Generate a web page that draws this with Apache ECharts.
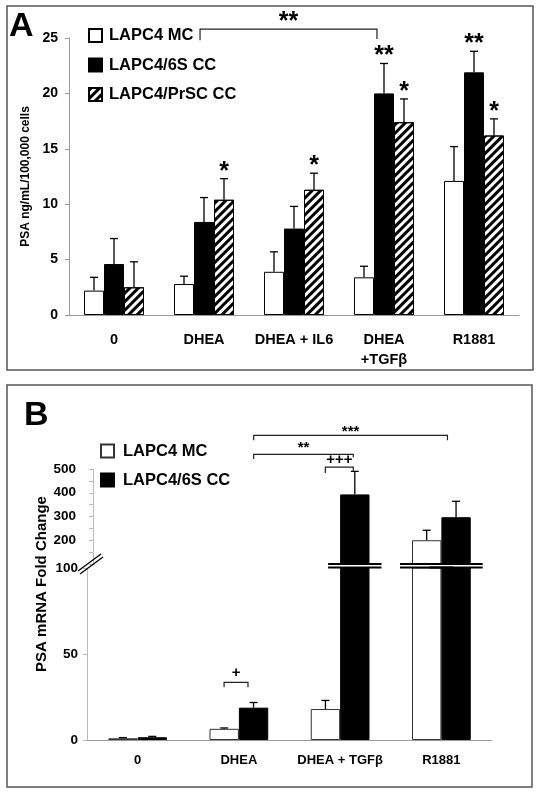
<!DOCTYPE html>
<html><head><meta charset="utf-8">
<script src="https://cdn.jsdelivr.net/npm/echarts@6/dist/echarts.min.js"></script>
<style>
html,body{margin:0;padding:0;background:#fff;width:542px;height:794px;overflow:hidden}
#a{position:absolute;left:0;top:0;width:542px;height:380px}
#b{position:absolute;left:0;top:380px;width:542px;height:414px}
</style></head>
<body><div id="a"></div><div id="b"></div>
<script>
const FONT = '"Liberation Sans", Arial, Helvetica, sans-serif';

// ---------- Panel A data ----------
const catsA = ['0', 'DHEA', 'DHEA + IL6', 'DHEA\n+TGFβ', 'R1881'];
const namesA = ['LAPC4 MC', 'LAPC4/6S CC', 'LAPC4/PrSC CC'];
const mcA = [2.2, 2.8, 3.9, 3.4, 12.1];
const mcSdA = [1.2, 0.7, 1.8, 1.0, 3.1];
const s6A = [4.6, 8.4, 7.8, 20.0, 21.9];
const s6SdA = [2.3, 2.2, 2.0, 2.7, 1.9];
const prA = [2.5, 10.4, 11.3, 17.4, 16.2];
const prSdA = [2.3, 1.9, 1.5, 2.1, 1.5];
const yTicksA = [0, 5, 10, 15, 20, 25];
// significance marks: category, series index, text
const starsA = [[1, 2, '*'], [2, 2, '*'], [3, 1, '**'], [3, 2, '*'], [4, 1, '**'], [4, 2, '*']];
// bracket: fromCat, fromFrac, toCat, toFrac, lineY, tipLeftY, tipRightY, labelY, label
const bracketsA = [[1, -0.044, 3, -0.078, 25.8, 24.8, 24.9, 26.9, '**']];

// ---------- Panel B data ----------
const catsB = ['0', 'DHEA', 'DHEA + TGFβ', 'R1881'];
const namesB = ['LAPC4 MC', 'LAPC4/6S CC'];
const mcB = [1.0, 6.5, 18, 200];
const mcSdB = [0.4, 0.5, 5, 42];
const s6B = [1.6, 18.8, 393, 297];
const s6SdB = [0.5, 3.0, 97, 67];
const lowerTicksB = [0, 50, 100];
const upperTicksB = [200, 300, 400, 500];
// brackets: grid(0 upper,1 lower), fromCat, fromFrac, toCat, toFrac, lineY, tipL, tipR, labelY, label
const bracketsB = [
  [0, 1, 0.146, 3, 0.06, 642, 621, 621, 671, '***'],
  [0, 1, 0.146, 2, 0.13, 562, 542, 550, 604, '**'],
  [0, 2, -0.146, 2, 0.13, 508, 483, 492, 538, '+++'],
  [1, 1, -0.146, 1, 0.09, 33.5, 30.6, 30.6, 39.3, '+']
];

const hatch = {symbol: 'rect', symbolSize: 1, dashArrayX: [1, 0], dashArrayY: [2.5, 2.5], rotation: -Math.PI / 4, color: '#000'};

function barPos(api, ci, k, n, gap) {
  const c = api.coord([ci, 0]);
  const band = api.size([1, 0])[0];
  const bw = band * (1 - gap) / n;
  return {x: c[0] + (k - (n - 1) / 2) * bw, bw: bw};
}
// asterisks sit high in the em box: push them down so the glyph is centred
function glyphShift(text, fs) { return text.indexOf('*') >= 0 ? fs * 0.22 : 0; }

function errSeries(vals, sds, k, n, gap, opts) {
  opts = opts || {};
  return Object.assign({
    type: 'custom', name: 'err' + k, z: 5, clip: false, silent: true,
    data: vals.map((v, i) => [i, v, sds[i]]),
    renderItem: function (params, api) {
      const ci = api.value(0), v = api.value(1), sd = api.value(2);
      if (opts.filter && !opts.filter(v)) return null;
      const p = barPos(api, ci, k, n, gap);
      const y0 = api.coord([ci, v])[1], y1 = api.coord([ci, v + sd])[1];
      const st = {stroke: '#000', lineWidth: 1.3};
      return {type: 'group', children: [
        {type: 'line', shape: {x1: p.x, y1: y0, x2: p.x, y2: y1}, style: st},
        {type: 'line', shape: {x1: p.x - 4, y1: y1, x2: p.x + 4, y2: y1}, style: st}
      ]};
    }
  }, opts.extra || {});
}
function bracketSeries(list, fontSize, extra) {
  return Object.assign({
    type: 'custom', name: 'brackets', z: 6, clip: false, silent: true,
    data: list.map(b => b.slice(0, 8)),
    renderItem: function (params, api) {
      const b = list[params.dataIndex];
      const band = api.size([1, 0])[0];
      const xl = api.coord([b[0], 0])[0] + b[1] * band;
      const xr = api.coord([b[2], 0])[0] + b[3] * band;
      const y = api.coord([b[0], b[4]])[1];
      const yl = api.coord([b[0], b[5]])[1];
      const yr = api.coord([b[0], b[6]])[1];
      const ty = api.coord([b[0], b[7]])[1] + glyphShift(b[8], fontSize);
      return {type: 'group', children: [
        {type: 'polyline', shape: {points: [[xl, yl], [xl, y], [xr, y], [xr, yr]]}, style: {stroke: '#222', lineWidth: 1.2, fill: null}},
        {type: 'text', style: {x: (xl + xr) / 2, y: ty, text: b[8], align: 'center', verticalAlign: 'middle', font: 'bold ' + fontSize + 'px ' + FONT, fill: '#000'}}
      ]};
    }
  }, extra || {});
}

const axisGray = '#9a9a9a';

// ---------- Chart A ----------
const gapA = 1 / 3;
const valsA = [mcA, s6A, prA], sdsA = [mcSdA, s6SdA, prSdA];
const chartA = echarts.init(document.getElementById('a'), null, {renderer: 'canvas'});
chartA.setOption({
  animation: false,
  graphic: [
    {type: 'rect', shape: {x: 7, y: 6, width: 526, height: 364}, style: {fill: 'none', stroke: '#555', lineWidth: 1.5}, silent: true},
    {type: 'text', style: {x: 9, y: 27, text: 'A', font: 'bold 34px ' + FONT, fill: '#000', verticalAlign: 'middle'}, silent: true}
  ],
  legend: {
    orient: 'vertical', left: 88, top: 27, padding: 0, itemWidth: 13, itemHeight: 13, itemGap: 12.5, icon: 'rect',
    textStyle: {fontFamily: FONT, fontWeight: 'bold', fontSize: 16.5, color: '#000', padding: [0, 0, 0, 2]},
    data: namesA, selectedMode: false
  },
  grid: {left: 69, right: 23, top: 38, height: 277},
  xAxis: {
    type: 'category', data: catsA,
    axisLine: {lineStyle: {color: axisGray}}, axisTick: {length: 4, lineStyle: {color: axisGray}},
    axisLabel: {interval: 0, color: '#000', fontFamily: FONT, fontWeight: 'bold', fontSize: 14.5, margin: 15, lineHeight: 20}
  },
  yAxis: {
    type: 'value', min: yTicksA[0], max: yTicksA[yTicksA.length - 1], interval: 5,
    splitLine: {show: false},
    axisLine: {show: true, lineStyle: {color: axisGray}}, axisTick: {show: true, length: 4, lineStyle: {color: axisGray}},
    axisLabel: {color: '#000', fontFamily: FONT, fontWeight: 'bold', fontSize: 14, margin: 11},
    name: 'PSA ng/mL/100,000 cells', nameLocation: 'middle', nameGap: 34, nameRotate: 90,
    nameTextStyle: {color: '#000', fontFamily: FONT, fontWeight: 'bold', fontSize: 12}
  },
  series: [
    {type: 'bar', name: namesA[0], data: mcA, barGap: '0%', barCategoryGap: '33.3%', itemStyle: {color: '#fff', borderColor: '#000', borderWidth: 1}},
    {type: 'bar', name: namesA[1], data: s6A, itemStyle: {color: '#000', borderColor: '#000', borderWidth: 1}},
    {type: 'bar', name: namesA[2], data: prA, itemStyle: {color: '#fff', borderColor: '#000', borderWidth: 1, decal: hatch}},
    errSeries(mcA, mcSdA, 0, 3, gapA),
    errSeries(s6A, s6SdA, 1, 3, gapA),
    errSeries(prA, prSdA, 2, 3, gapA),
    {
      type: 'custom', name: 'stars', z: 6, clip: false, silent: true,
      data: starsA.map(s => [s[0], s[1]]),
      renderItem: function (params, api) {
        const s = starsA[params.dataIndex];
        const ci = s[0], k = s[1];
        const top = valsA[k][ci] + sdsA[k][ci];
        const p = barPos(api, ci, k, 3, gapA);
        const y = api.coord([ci, top])[1];
        return {type: 'text', style: {x: p.x, y: y - 7, text: s[2], align: 'center', verticalAlign: 'middle', font: 'bold 25px ' + FONT, fill: '#000'}};
      }
    },
    bracketSeries(bracketsA, 25)
  ]
});

// ---------- Chart B ----------
const gapB = 0.42;
const LOWER_MAX = lowerTicksB[lowerTicksB.length - 1];
const chartB = echarts.init(document.getElementById('b'), null, {renderer: 'canvas'});
const barStyleB = [
  {color: '#fff', borderColor: '#333', borderWidth: 1},
  {color: '#000', borderColor: '#000', borderWidth: 1}
];
const valsB = [mcB, s6B], sdsB = [mcSdB, s6SdB];
const seriesB = [];
[0, 1].forEach(g => {
  valsB.forEach((vals, k) => {
    seriesB.push({type: 'bar', name: namesB[k], xAxisIndex: g, yAxisIndex: g, data: vals, barGap: '0%', barCategoryGap: (gapB * 100) + '%', itemStyle: barStyleB[k]});
  });
});
valsB.forEach((vals, k) => {
  seriesB.push(errSeries(vals, sdsB[k], k, 2, gapB, {filter: v => v > LOWER_MAX, extra: {xAxisIndex: 0, yAxisIndex: 0}}));
  seriesB.push(errSeries(vals, sdsB[k], k, 2, gapB, {filter: v => v <= LOWER_MAX, extra: {xAxisIndex: 1, yAxisIndex: 1}}));
});
seriesB.push(bracketSeries(bracketsB.filter(b => b[0] === 0).map(b => b.slice(1)), 15, {xAxisIndex: 0, yAxisIndex: 0}));
seriesB.push(bracketSeries(bracketsB.filter(b => b[0] === 1).map(b => b.slice(1)), 15, {xAxisIndex: 1, yAxisIndex: 1}));
// axis-break marks across the bars that exceed the lower segment
const breaks = [];
valsB.forEach((vals, k) => vals.forEach((v, i) => { if (v > LOWER_MAX) breaks.push([i, k]); }));
seriesB.push({
  type: 'custom', name: 'breaks', xAxisIndex: 1, yAxisIndex: 1, z: 7, clip: false, silent: true,
  data: breaks,
  renderItem: function (params, api) {
    const ci = api.value(0), k = api.value(1);
    const p = barPos(api, ci, k, 2, gapB);
    const y0 = api.coord([ci, LOWER_MAX])[1];
    const xa = p.x - p.bw / 2 - 12, xb = p.x + p.bw / 2 + 12;
    const st = {stroke: '#000', lineWidth: 2};
    return {type: 'group', children: [
      {type: 'line', shape: {x1: xa, y1: y0 - 4, x2: xb, y2: y0 - 4}, style: st},
      {type: 'line', shape: {x1: xa, y1: y0 - 0.5, x2: xb, y2: y0 - 0.5}, style: st}
    ]};
  }
});
// "//" break on the value axis
seriesB.push({
  type: 'custom', name: 'axisbreak', xAxisIndex: 1, yAxisIndex: 1, z: 7, clip: false, silent: true,
  data: [[0, LOWER_MAX]],
  renderItem: function (params, api) {
    const x0 = params.coordSys.x, y0 = params.coordSys.y;
    const st = {stroke: '#000', lineWidth: 1.3};
    return {type: 'group', children: [
      {type: 'line', shape: {x1: x0 - 9, y1: y0 + 3, x2: x0 + 14, y2: y0 - 14}, style: st},
      {type: 'line', shape: {x1: x0 - 7, y1: y0 + 6, x2: x0 + 16, y2: y0 - 11}, style: st}
    ]};
  }
});

chartB.setOption({
  animation: false,
  graphic: [
    {type: 'rect', shape: {x: 7, y: 5, width: 525, height: 402}, style: {fill: 'none', stroke: '#555', lineWidth: 1.5}, silent: true},
    {type: 'text', style: {x: 24, y: 36, text: 'B', font: 'bold 34px ' + FONT, fill: '#000', verticalAlign: 'middle'}, silent: true},
    {type: 'text', x: 42, y: 204, rotation: Math.PI / 2, style: {x: 0, y: 0, text: 'PSA mRNA Fold Change', font: 'bold 15px ' + FONT, fill: '#000', align: 'center', verticalAlign: 'middle'}, silent: true}
  ],
  legend: {
    orient: 'vertical', left: 100, top: 62.5, padding: 0, itemWidth: 13, itemHeight: 13, itemGap: 12, icon: 'rect',
    textStyle: {fontFamily: FONT, fontWeight: 'bold', fontSize: 16.5, color: '#000', padding: [0, 0, 0, 4]},
    data: namesB, selectedMode: false
  },
  grid: [
    {left: 87, right: 50, top: 89, height: 95},
    {left: 87, right: 50, top: 188, height: 172}
  ],
  xAxis: [
    {type: 'category', gridIndex: 0, data: catsB, show: false},
    {type: 'category', gridIndex: 1, data: catsB,
      axisLine: {lineStyle: {color: axisGray}}, axisTick: {length: 4, lineStyle: {color: axisGray}},
      axisLabel: {interval: 0, color: '#000', fontFamily: FONT, fontWeight: 'bold', fontSize: 13, margin: 14}}
  ],
  yAxis: [
    {type: 'value', gridIndex: 0, min: 100, max: upperTicksB[upperTicksB.length - 1], interval: 50, offset: -6,
      splitLine: {show: false},
      axisLine: {show: true, lineStyle: {color: '#bbb'}}, axisTick: {show: true, length: 4, lineStyle: {color: '#bbb'}},
      axisLabel: {color: '#000', fontFamily: FONT, fontWeight: 'bold', fontSize: 13.5, margin: 17,
        formatter: v => upperTicksB.indexOf(v) >= 0 ? String(v) : ''}},
    {type: 'value', gridIndex: 1, min: 0, max: LOWER_MAX, interval: 50,
      splitLine: {show: false},
      axisLine: {show: true, lineStyle: {color: '#bbb'}}, axisTick: {show: true, length: 4, lineStyle: {color: '#bbb'}},
      axisLabel: {color: '#000', fontFamily: FONT, fontWeight: 'bold', fontSize: 13.5, margin: 9,
        formatter: v => lowerTicksB.indexOf(v) >= 0 ? String(v) : ''}}
  ],
  series: seriesB
});
</script>
</body></html>
